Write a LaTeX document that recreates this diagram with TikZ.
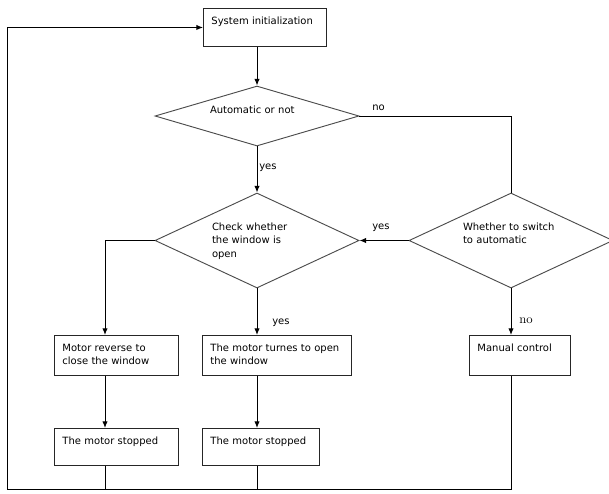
\documentclass[tikz,border=0pt]{standalone}
\usepackage{fontspec}
\newfontfamily\dejavu{DejaVu Sans}
\usetikzlibrary{arrows.meta,positioning,shapes.geometric}
\newcommand\flowfont{\dejavu\fontsize{7.5}{10}\selectfont}

\begin{document}
\begin{tikzpicture}[
    x=0.75pt, y=-0.75pt,
    procbox/.style 2 args={draw=black!85, line width=0.7pt, anchor=north west, align=left,
                  font=\flowfont, inner xsep=6pt, inner ysep=4pt, text height=8pt,
                  text width=#1, text depth=#2},
    decbox/.style={diamond, draw=black!70, line width=0.7pt, align=left, font=\flowfont,
                  inner sep=0pt, text height=6pt},
    flowarrow/.style={-{Latex[length=5pt,width=4pt]}, line width=0.7pt},
    flowline/.style={line width=0.7pt},
    lbl/.style={font=\flowfont, inner sep=0pt, anchor=base west},
  ]
  \useasboundingbox (0,0) rectangle (609,493);

  % === Decisions ===
  \node[procbox={80.25pt}{12.5pt}] (init) at (203,8) {System initialization};
  \node[decbox, minimum width=153pt, minimum height=45pt, aspect=3.4,
        text width=70.5pt, text depth=9.75pt] (auto) at (257,116) {Automatic or not};
  \node[decbox, minimum width=153pt, minimum height=71.25pt, aspect=2.15,
        text width=67.5pt, text depth=21pt] (check) at (257,240.5) {Check whether\\the window is\\open};
  \node[decbox, minimum width=153pt, minimum height=71.25pt, aspect=2.15,
        text width=72pt, text depth=21pt] (switch) at (511,240.5) {Whether to switch\\to automatic};

  % === Actions ===
  \node[procbox={81pt}{14pt}] (close) at (54,335) {Motor reverse to\\close the window};
  \node[procbox={99.75pt}{14pt}] (open) at (202,335) {The motor turnes to open\\the window};
  \node[procbox={63.75pt}{14pt}] (manual) at (469,335) {Manual control};
  \node[procbox={81pt}{11.75pt}] (stopA) at (54,428) {The motor stopped};
  \node[procbox={75.75pt}{11.75pt}] (stopB) at (202,428) {The motor stopped};

  \coordinate (colA) at (105,0);
  \coordinate (loop) at (7,489);

  % Arrows
  \draw[flowarrow] (init.south -| auto.north) -- (auto.north);
  \draw[flowarrow] (auto.south) -- (check.north);
  \draw[flowline] (auto.east) -| (switch.north);
  \draw[flowarrow] (switch.west) -- (check.east);
  \draw[flowarrow] (check.west) -| (colA |- close.north);
  \draw[flowarrow] (check.south) -- (check.south |- open.north);
  \draw[flowarrow] (switch.south) -- (switch.south |- manual.north);
  \draw[flowarrow] (colA |- close.south) -- (colA |- stopA.north);
  \draw[flowarrow] (check.south |- open.south) -- (check.south |- stopB.north);

  % Return loop
  \draw[flowline] (colA |- stopA.south) -- (colA |- loop);
  \draw[flowline] (check.south |- stopB.south) -- (check.south |- loop);
  \draw[flowarrow] (switch.south |- manual.south) |- (loop) |- (init.west);

  % Branch labels
  \node[lbl] (noA) at (372,110.7) {no};
  \node[lbl] (yesA) at (259,169.5) {yes};
  \node[lbl] (yesB) at (372,229) {yes};
  \node[lbl] (yesC) at (272,324) {yes};
  \node[lbl, font=\fontsize{9.5}{11}\selectfont] (noB) at (519,323.5) {no};

\end{tikzpicture}
\end{document}
